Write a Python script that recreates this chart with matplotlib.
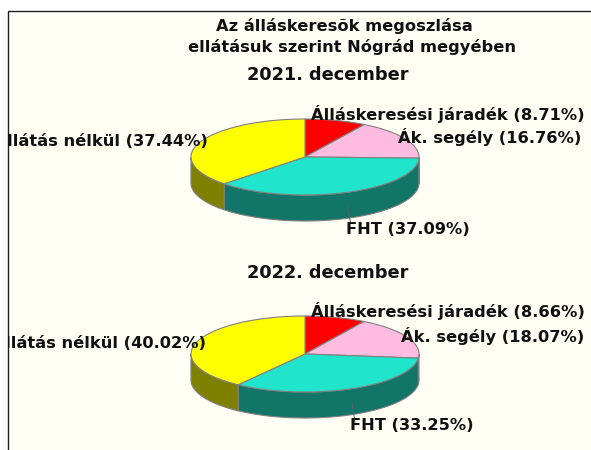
import numpy as np
import matplotlib
matplotlib.use('Agg')
import matplotlib.pyplot as plt
from matplotlib.patches import Polygon, Rectangle

plt.rcParams['font.family'] = ['DejaVu Sans']

# Data
categories = ['Álláskeresési járadék', 'Ák. segély', 'FHT', 'Ellátás nélkül']
values_2021 = [8.71, 16.76, 37.09, 37.44]
values_2022 = [8.66, 18.07, 33.25, 40.02]
top_colors = ['#ff0000', '#ffbbe0', '#20e5cc', '#ffff00']
side_colors = ['#800000', '#805e70', '#117567', '#808000']

# one pixel = one data unit, y going down
fig = plt.figure(figsize=(5.91, 4.5), dpi=100)
ax = fig.add_axes([0, 0, 1, 1])
ax.set_xlim(0, 591)
ax.set_ylim(450, 0)
ax.axis('off')

frame = Rectangle((8, 11), 600, 460, facecolor='#fffff5', edgecolor='#202020', linewidth=1.0)
ax.add_patch(frame)


def ell(cx, cy, rx, ry, a, b):
    # angles in degrees, clockwise from the top
    t = np.radians(np.linspace(a, b, 80))
    return np.column_stack([cx + rx * np.sin(t), cy - ry * np.cos(t)])


def pie3d(values, cx, cy, rx=114, ry=38, depth=26):
    edges = np.concatenate([[0], np.cumsum(values) / np.sum(values) * 360])
    for i in range(len(values)):
        a = max(edges[i], 90)
        b = min(edges[i + 1], 270)
        if b > a:
            rim = ell(cx, cy, rx, ry, a, b)
            low = rim[::-1] + [0, depth]
            ax.add_patch(Polygon(np.vstack([rim, low]), facecolor=side_colors[i],
                                 edgecolor='#808080', linewidth=0.8))
    for i in range(len(values)):
        arc = ell(cx, cy, rx, ry, edges[i], edges[i + 1])
        ax.add_patch(Polygon(np.vstack([[cx, cy], arc]), facecolor=top_colors[i],
                             edgecolor='#808080', linewidth=0.8))


pie3d(values_2021, 305, 157)
pie3d(values_2022, 305, 354)

# leader lines
ax.plot([347, 350.5], [206, 222], color='#606060', lw=0.7)
ax.plot([352, 355], [403, 422], color='#606060', lw=0.7)

title_kw = dict(ha='center', va='center', fontweight='bold', color='#101010')
ax.text(344, 26, 'Az álláskeresõk megoszlása', fontsize=11.7, **title_kw)
ax.text(352, 47, 'ellátásuk szerint Nógrád megyében', fontsize=11.7, **title_kw)
ax.text(328, 75, '2021. december', fontsize=12.8, **title_kw)
ax.text(328, 273, '2022. december', fontsize=12.8, **title_kw)


def labels(values, xs, ys, ells_right):
    for name, v, x, y in zip(categories, values, xs, ys):
        t = ax.text(x, y, f'{name} ({v:.2f}%)', fontsize=11.7, ha='center', va='center',
                    fontweight='bold', color='#101010')
        if name == categories[3]:
            t.set_ha('right')
            t.set_x(ells_right)
            t.set_clip_path(frame)
            t.set_clip_on(True)


labels(values_2021, [448, 490, 408, 0], [114, 137, 230, 142], 208)
labels(values_2022, [448, 493, 412, 0], [311, 336, 426, 343], 205.5)

fig.savefig('out.png', dpi=100)
